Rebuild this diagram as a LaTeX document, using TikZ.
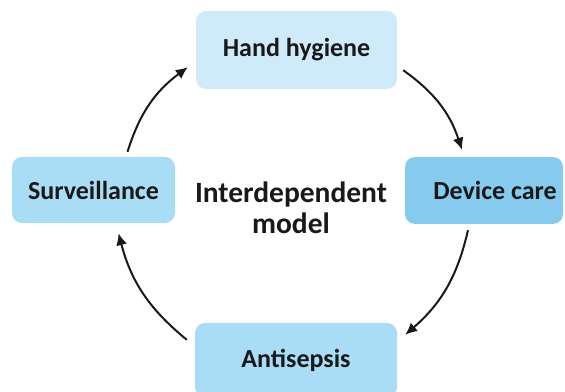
\documentclass[tikz,border=0pt]{standalone}
\usepackage{fontspec}
\setmainfont{Carlito}
\usetikzlibrary{arrows.meta}
\definecolor{boxlight}{HTML}{CFEBFA}
\definecolor{boxmid}{HTML}{A9DCF5}
\definecolor{boxdark}{HTML}{86CAEE}
\tikzset{
  stepbox/.style={rectangle, rounded corners=10pt, draw=none, inner sep=0pt, font=\bfseries\fontsize{26}{30}\selectfont, text=black!90},
  arr/.style={line width=2pt, -{Latex[length=12pt,width=11pt]}, black!90},
}
\begin{document}
\begin{tikzpicture}[x=1pt,y=1pt]
\useasboundingbox (0,0) rectangle (565,391);
\begin{scope}
\clip (0,0) rectangle (565,391);
\node[stepbox, fill=boxlight, minimum width=201pt, minimum height=78pt] (hand) at (296.5,341) {Hand hygiene};
\node[stepbox, fill=boxdark, minimum width=158pt, minimum height=67pt] (device) at (484,200.5) {};
\node[stepbox] (devicetext) at (495,200.5) {Device care};
\node[stepbox, fill=boxmid, minimum width=163pt, minimum height=66pt] (surv) at (93.5,201) {Surveillance};
\node[stepbox, fill=boxmid, minimum width=202pt, minimum height=74pt] (anti) at (296,31) {Antisepsis};
\node[align=center, font=\bfseries\fontsize{29.5}{31}\selectfont, text=black!90] (center) at (291,183) {Interdependent\\model};
\draw[arr] ([shift={(6,19)}]hand.south east) to[bend left=18] ([shift={(-22,7)}]device.north);
\draw[arr] ([shift={(-16,-6)}]device.south) to[bend left=18] ([shift={(8,-12)}]anti.north east);
\draw[arr] ([shift={(-8,-17)}]anti.north west) to[bend left=18] ([shift={(25,-10)}]surv.south);
\draw[arr] ([shift={(34,5)}]surv.north) to[bend left=18] ([shift={(-8,22)}]hand.south west);
\end{scope}
\end{tikzpicture}
\end{document}
